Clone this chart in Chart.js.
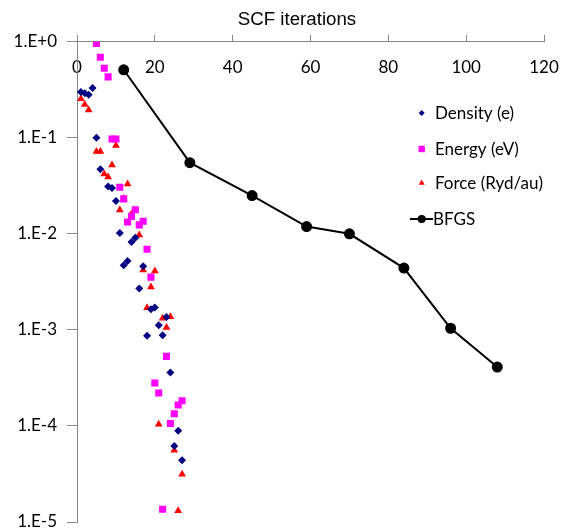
<!DOCTYPE html>
<html>
<head>
<meta charset="utf-8">
<script src="https://cdn.jsdelivr.net/npm/chart.js@4/dist/chart.umd.min.js"></script>
<style>
  html, body { margin: 0; padding: 0; background: #fff; }
  canvas { display: block; }
</style>
</head>
<body>
<canvas id="scfChart" width="561" height="530"></canvas>
<script>
// Data
const densityX = [1, 2, 3, 4, 5, 6, 8, 9, 10, 11, 12, 13, 14, 15, 16, 17, 18, 19, 20, 21, 22, 23, 24, 25, 26, 27];
const densityY = [0.30, 0.29, 0.28, 0.33, 0.10, 0.047, 0.031, 0.030, 0.022, 0.0102, 0.0047, 0.0052, 0.0082, 0.0091,
                  0.0027, 0.0046, 0.00087, 0.00164, 0.00171, 0.00112, 0.00088, 0.00136, 0.00036, 0.000062, 0.000089, 0.000044];

const energyX = [5, 6, 7, 8, 9, 10, 11, 12, 13, 14, 15, 16, 17, 18, 19, 20, 21, 22, 23, 24, 25, 26, 27];
const energyY = [0.96, 0.69, 0.53, 0.43, 0.097, 0.097, 0.0305, 0.0231, 0.0133, 0.0152, 0.0178, 0.0124, 0.0135, 0.0069,
                 0.00354, 0.00028, 0.00022, 0.0000136, 0.00053, 0.000106, 0.000134, 0.000165, 0.000183];

const forceX = [1, 2, 3, 5, 6, 7, 8, 9, 10, 11, 12, 13, 14, 15, 16, 17, 18, 19, 20, 21, 22, 23, 24, 25, 26, 27];
const forceY = [0.255, 0.222, 0.194, 0.072, 0.072, 0.042, 0.039, 0.052, 0.083, 0.0177, 0.0233, 0.033, 0.0161, 0.0176,
                0.0097, 0.0042, 0.0017, 0.0028, 0.0041, 0.000104, 0.00132, 0.00106, 0.00137, 0.000056, 0.0000131, 0.0000315];

const bfgsX = [12, 29, 45, 59, 70, 84, 96, 108];
const bfgsY = [0.51, 0.055, 0.025, 0.0119, 0.0100, 0.0044, 0.00104, 0.00041];

const yTicks = [1, 0.1, 0.01, 0.001, 0.0001, 0.00001];
const yTickLabels = ['1.E+0', '1.E-1', '1.E-2', '1.E-3', '1.E-4', '1.E-5'];
const xTitle = 'SCF iterations';

const AXIS_GRAY = '#868686';
const TICK_FONT = { family: 'Lato', size: 17 };

function toPoints(xs, ys) {
    return xs.map((x, i) => ({ x, y: ys[i] }));
}

// Legend + axis title drawn on the canvas so they can sit where the original has them
const overlayPlugin = {
    id: 'overlay',
    afterDraw(chart) {
        const ctx = chart.ctx;
        ctx.save();

        // axis title
        ctx.fillStyle = '#000';
        ctx.font = '18.7px "Liberation Sans"';
        ctx.textAlign = 'center';
        ctx.textBaseline = 'middle';
        ctx.fillText(xTitle, 297, 20);

        // legend
        const rows = [113, 149, 183, 219];
        const markX = 421.7;
        ctx.font = '17px Lato';
        ctx.textAlign = 'left';
        chart.data.datasets.forEach((ds, i) => {
            const y = rows[i];
            if (ds.showLine) {
                ctx.strokeStyle = ds.borderColor;
                ctx.lineWidth = ds.borderWidth;
                ctx.beginPath();
                ctx.moveTo(410, y);
                ctx.lineTo(433, y);
                ctx.stroke();
            }
            ctx.fillStyle = ds.backgroundColor;
            Chart.helpers.drawPoint(ctx, {
                pointStyle: ds.pointStyle,
                radius: ds.legendRadius,
                rotation: 0,
                borderWidth: 0
            }, markX, y);
            ctx.fillStyle = '#000';
            ctx.fillText(ds.label, ds.showLine ? 433 : 435, y + 1);
        });
        ctx.restore();
    }
};

new Chart(document.getElementById('scfChart'), {
    type: 'scatter',
    data: {
        datasets: [
            {
                label: 'Density (e)',
                data: toPoints(densityX, densityY),
                pointStyle: 'rectRot',
                pointRadius: 4,
                legendRadius: 3,
                backgroundColor: '#000080',
                borderColor: '#000080',
                borderWidth: 0
            },
            {
                label: 'Energy (eV)',
                data: toPoints(energyX, energyY),
                pointStyle: 'rect',
                pointRadius: 5,
                legendRadius: 4.5,
                backgroundColor: '#FF00FF',
                borderColor: '#FF00FF',
                borderWidth: 0
            },
            {
                label: 'Force (Ryd/au)',
                data: toPoints(forceX, forceY),
                pointStyle: 'triangle',
                pointRadius: 4.5,
                legendRadius: 3.5,
                backgroundColor: '#FF0000',
                borderColor: '#FF0000',
                borderWidth: 0
            },
            {
                label: 'BFGS',
                data: toPoints(bfgsX, bfgsY),
                showLine: true,
                pointStyle: 'circle',
                pointRadius: 4.5,
                legendRadius: 4,
                backgroundColor: '#000',
                borderColor: '#000',
                borderWidth: 2
            }
        ]
    },
    options: {
        responsive: false,
        animation: false,
        layout: { padding: { left: 0, top: 0, right: 17, bottom: 8 } },
        plugins: {
            legend: { display: false },
            tooltip: { enabled: false }
        },
        scales: {
            x: {
                type: 'linear',
                position: 'top',
                min: 0,
                max: 120,
                afterFit: s => {
                    s.height = 41.7;
                    s.paddingLeft = 0;
                    s.paddingRight = 0;
                },
                ticks: {
                    stepSize: 20,
                    mirror: true,
                    padding: 16,
                    color: '#000',
                    font: TICK_FONT,
                    maxRotation: 0
                },
                grid: { drawOnChartArea: false, drawTicks: true, tickLength: 7, color: AXIS_GRAY },
                border: { color: AXIS_GRAY, width: 1 }
            },
            y: {
                type: 'logarithmic',
                min: 0.00001,
                max: 1,
                afterFit: s => {
                    s.width = 77;
                    s.paddingTop = 0;
                    s.paddingBottom = 0;
                },
                afterBuildTicks: s => { s.ticks = yTicks.map(v => ({ value: v })); },
                ticks: {
                    autoSkip: false,
                    padding: 10,
                    color: '#000',
                    font: TICK_FONT,
                    callback: v => yTickLabels[yTicks.indexOf(v)]
                },
                grid: { drawOnChartArea: false, drawTicks: true, tickLength: 10, color: AXIS_GRAY },
                border: { color: AXIS_GRAY, width: 1 }
            }
        }
    },
    plugins: [overlayPlugin]
});
</script>
</body>
</html>
